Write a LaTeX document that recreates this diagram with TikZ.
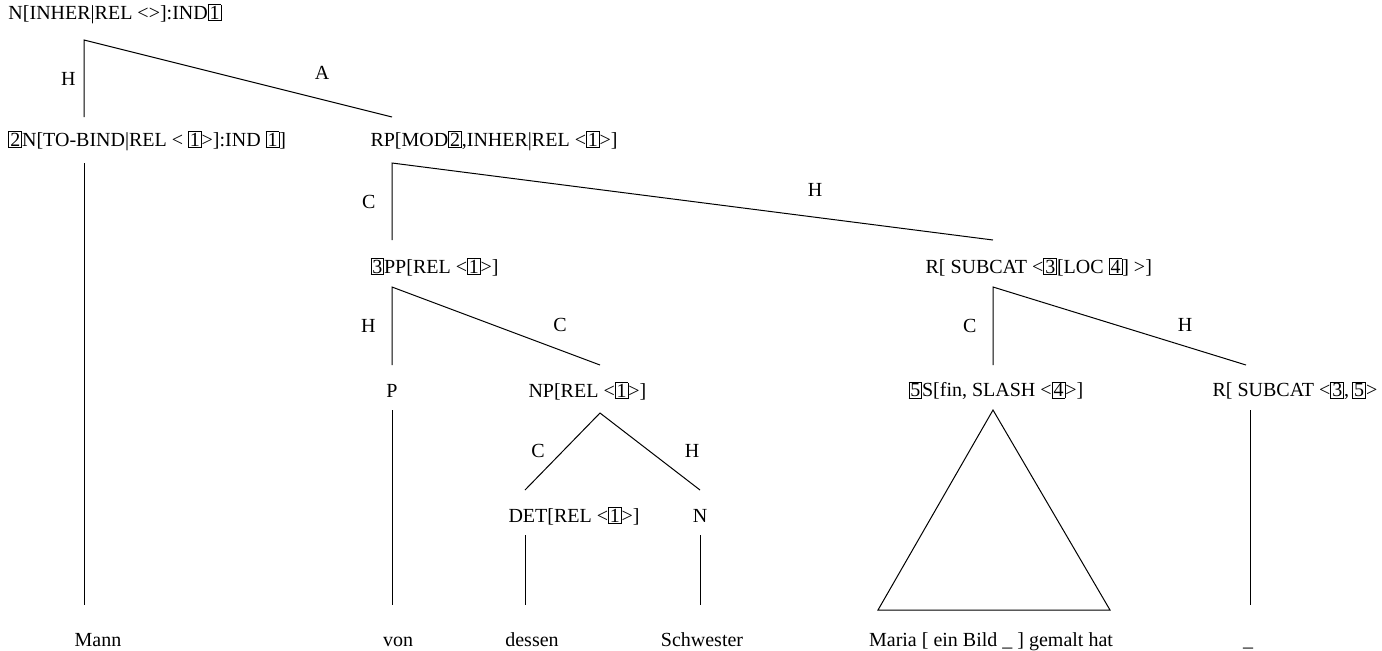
\documentclass[tikz,border=0pt]{standalone}
\usepackage{fontspec}
\setmainfont{Liberation Serif}
\usetikzlibrary{positioning, calc}
\setlength{\fboxsep}{0.5pt}
\setlength{\fboxrule}{0.4pt}
\newcommand{\bx}[1]{\fbox{#1}}

\begin{document}
\begin{tikzpicture}[x=0.5pt, y=-0.5pt, line width=0.5pt,
    cat/.style={inner sep=0pt, anchor=west, font=\fontsize{10}{12}\selectfont},
    word/.style={inner sep=0pt, anchor=base, font=\fontsize{10}{12}\selectfont},
    rel/.style={inner sep=0pt, font=\fontsize{10}{12}\selectfont}]
      \useasboundingbox (0,0) rectangle (1382,650);

      % categories
      \node[cat] (root) at (8,14) {N[INHER|REL <>]:IND\bx{1}};
      \node[cat] (n) at (8,141) {\bx{2}N[TO-BIND|REL < \bx{1}>]:IND \bx{1}]};
      \node[cat] (rp) at (370,141) {RP[MOD\bx{2},INHER|REL <\bx{1}>]};
      \node[cat] (pp) at (370,267) {\bx{3}PP[REL <\bx{1}>]};
      \node[cat] (r) at (925,267) {R[ SUBCAT <\bx{3}[LOC \bx{4}] >]};
      \node[rel] (p) at (392,391) {P};
      \node[cat] (np) at (528,391) {NP[REL <\bx{1}>]};
      \node[cat] (s) at (908,391) {\bx{5}S[fin, SLASH <\bx{4}>]};
      \node[cat] (rr) at (1212,391) {R[ SUBCAT <\bx{3},\,\bx{5}>};
      \node[cat] (det) at (508,516) {DET[REL <\bx{1}>]};
      \node[rel] (nn) at (700,516) {N};

      % words
      \node[word] (mann) at (98,646) {Mann};
      \node[word] (von) at (398,646) {von};
      \node[word] (dessen) at (532,646) {dessen};
      \node[word] (schw) at (702,646) {Schwester};
      \node[word] (maria) at (991,646) {Maria [ ein Bild \_ ] gemalt hat};
      \node[word] (gap) at (1248,646) {\_};

      % branch points
      \coordinate (root-b) at (84,40);   \coordinate (n-t) at (84,117);
      \coordinate (rp-t) at (392,117);   \coordinate (n-b) at (84,163);
      \coordinate (mann-t) at (84,605);  \coordinate (rp-b) at (392,163);
      \coordinate (pp-t) at (392,240);   \coordinate (r-t) at (993,240);
      \coordinate (pp-b) at (392,287);   \coordinate (p-t) at (392,365);
      \coordinate (np-t) at (600,365);   \coordinate (r-b) at (993,287);
      \coordinate (s-t) at (993,365);    \coordinate (rr-t) at (1246,365);
      \coordinate (p-b) at (392,410);    \coordinate (von-t) at (392,605);
      \coordinate (np-b) at (600,413);   \coordinate (det-t) at (525,490);
      \coordinate (nn-t) at (700,490);   \coordinate (det-b) at (525,535);
      \coordinate (dessen-t) at (525,605); \coordinate (nn-b) at (700,535);
      \coordinate (schw-t) at (700,605); \coordinate (s-b) at (993,410);
      \coordinate (maria-l) at (878,610); \coordinate (maria-r) at (1110,610);
      \coordinate (rr-b) at (1250,410);  \coordinate (gap-t) at (1250,605);

      \draw (n-t) -- node[rel, pos=0.5, left=4pt] {H} (root-b) -- (rp-t);
      \node[rel] at (322,73) {A};
      \draw (n-b) -- (mann-t);
      \draw (pp-t) -- node[rel, left=8pt] {C} (rp-b) -- (r-t);
      \node[rel] at (815,190) {H};
      \draw (p-t) -- node[rel, left=8pt] {H} (pp-b) -- (np-t);
      \node[rel] at (560,325) {C};
      \draw (s-t) -- node[rel, left=8pt] {C} (r-b) -- (rr-t);
      \node[rel] at (1185,325) {H};
      \draw (p-b) -- (von-t);
      \draw (det-t) -- (np-b) -- (nn-t);
      \node[rel] at (538,451) {C};
      \node[rel] at (692,451) {H};
      \draw (det-b) -- (dessen-t);
      \draw (nn-b) -- (schw-t);
      \draw (s-b) -- (maria-l) -- (maria-r) -- cycle;
      \draw (rr-b) -- (gap-t);
    \end{tikzpicture}
\end{document}
